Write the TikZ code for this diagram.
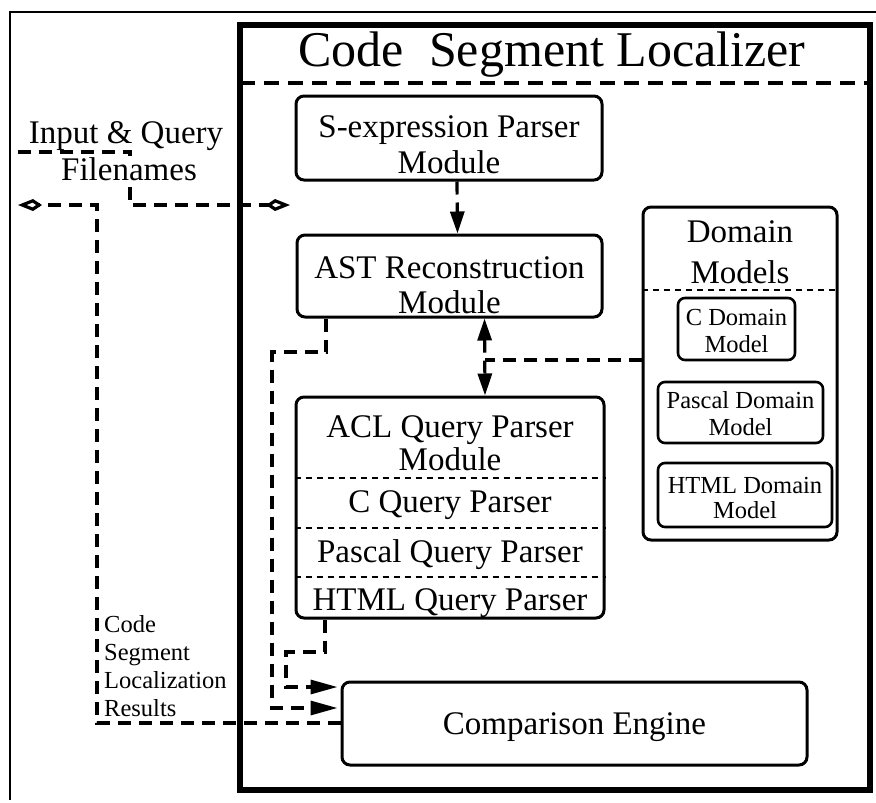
\documentclass[tikz,border=0pt]{standalone}
\usepackage{fontspec}
\setmainfont{Liberation Serif}
\usetikzlibrary{arrows.meta}
\begin{document}
\begin{tikzpicture}[x=1pt,y=-1pt,
  module/.style={draw, line width=3pt, rounded corners=8pt, inner sep=0pt},
  smallbox/.style={draw, line width=2.6pt, rounded corners=7pt, inner sep=0pt},
  big/.style={inner sep=0pt, anchor=base, font=\fontsize{33}{36}\selectfont},
  small/.style={inner sep=0pt, anchor=base, font=\fontsize{24.5}{26}\selectfont},
  link/.style={line width=3.2pt, dash pattern=on 13pt off 8pt},
  sep/.style={line width=2.6pt, dash pattern=on 6pt off 5pt},
  fillhead/.style={-{Triangle[length=22pt,width=14pt]}},
  longhead/.style={-{Triangle[length=27pt,width=14pt]}},
  openhead/.style={-{Kite[open,length=24pt,width=12pt,inset=9pt]}}
]
\useasboundingbox (0,0) rectangle (876,803);

% outer frame and the localizer block
\draw[line width=2.4pt] (10,800) -- (10,12) -- (876,12);
\draw[line width=6pt] (240,25) rectangle (870,790);
\node[inner sep=0pt, anchor=base, font=\fontsize{50}{52}\selectfont] (title) at (552,66) {Code\ \ Segment Localizer};
\draw[line width=3.2pt, dash pattern=on 15pt off 9pt] (240,83) -- (870,83);

% modules
\node[module, minimum width=306pt, minimum height=84pt] (sexp) at (449,138) {};
\node[big] (sexpA) at (449,137) {S-expression Parser};
\node[big] (sexpB) at (449,173) {Module};

\node[module, minimum width=305pt, minimum height=82pt] (ast) at (449.5,276) {};
\node[big] (astA) at (449.5,278) {AST Reconstruction};
\node[big] (astB) at (449.5,313) {Module};

\node[module, minimum width=308pt, minimum height=221pt] (acl) at (450,507.5) {};
\node[big] (aclA) at (450,437) {ACL Query Parser};
\node[big] (aclB) at (450,470) {Module};
\draw[sep] (acl.west |- 0,478) -- (acl.east |- 0,478);
\node[big] (aclC) at (450,512) {C Query Parser};
\draw[sep] (acl.west |- 0,528) -- (acl.east |- 0,528);
\node[big] (aclP) at (450,562) {Pascal Query Parser};
\draw[sep] (acl.west |- 0,577) -- (acl.east |- 0,577);
\node[big] (aclH) at (450,610) {HTML Query Parser};

% domain models
\node[module, minimum width=194pt, minimum height=333pt] (dom) at (740,373.5) {};
\node[big] (domA) at (740,242) {Domain};
\node[big] (domB) at (740,283) {Models};
\draw[sep] (dom.west |- 0,290) -- (dom.east |- 0,290);

\node[smallbox, minimum width=117pt, minimum height=62pt] (cdm) at (736.5,329) {};
\node[small] (cdmA) at (736.5,325) {C Domain};
\node[small] (cdmB) at (736.5,352) {Model};

\node[smallbox, minimum width=165pt, minimum height=61pt] (pdm) at (740.5,412.5) {};
\node[small] (pdmA) at (740.5,408) {Pascal Domain};
\node[small] (pdmB) at (740.5,435) {Model};

\node[smallbox, minimum width=174pt, minimum height=64pt] (hdm) at (745,495) {};
\node[small] (hdmA) at (745,493) {HTML Domain};
\node[small] (hdmB) at (745,518) {Model};

% comparison engine
\node[module, minimum width=465pt, minimum height=83pt] (cmp) at (574.5,723.5) {};
\node[big] (cmpA) at (574.5,734) {Comparison Engine};

% flows inside the localizer
\draw[link, fillhead] ([xshift=8pt]sexp.south) -- ([xshift=8pt]ast.north);
\draw[link, {Triangle[length=22pt,width=14pt]}-{Triangle[length=22pt,width=14pt]}]
  ([xshift=35pt]ast.south) -- ([xshift=35pt]acl.north);
\coordinate (junc) at (485,360);
\draw[link] (dom.west |- junc) -- (junc);
\draw[link, longhead, shorten >=3pt] ([xshift=-123.5pt]ast.south) |- (272,352) |- (cmp.west |- 0,708);
\draw[link, longhead, shorten >=3pt] ([xshift=-125pt]acl.south) |- (286,652) |- (cmp.west |- 0,687);

% input filenames and results
\coordinate (inStart) at (18,152);
\coordinate (inEnd) at (290,205);
\coordinate (outEnd) at (18,205);
\draw[link, openhead] (inStart) -| (130,205) -- (inEnd);
\draw[link, openhead] (cmp.west |- 0,723) -| (97,205) -- (outEnd);

\node[big] (inA) at (126,143) {Input \& Query};
\node[big, fill=white, inner sep=1pt] (inB) at (129,180) {Filenames};

\node[small, anchor=base west] (r1) at (104,632) {Code};
\node[small, anchor=base west] (r2) at (104,660) {Segment};
\node[small, anchor=base west] (r3) at (104,688) {Localization};
\node[small, anchor=base west] (r4) at (104,716) {Results};
\end{tikzpicture}
\end{document}
